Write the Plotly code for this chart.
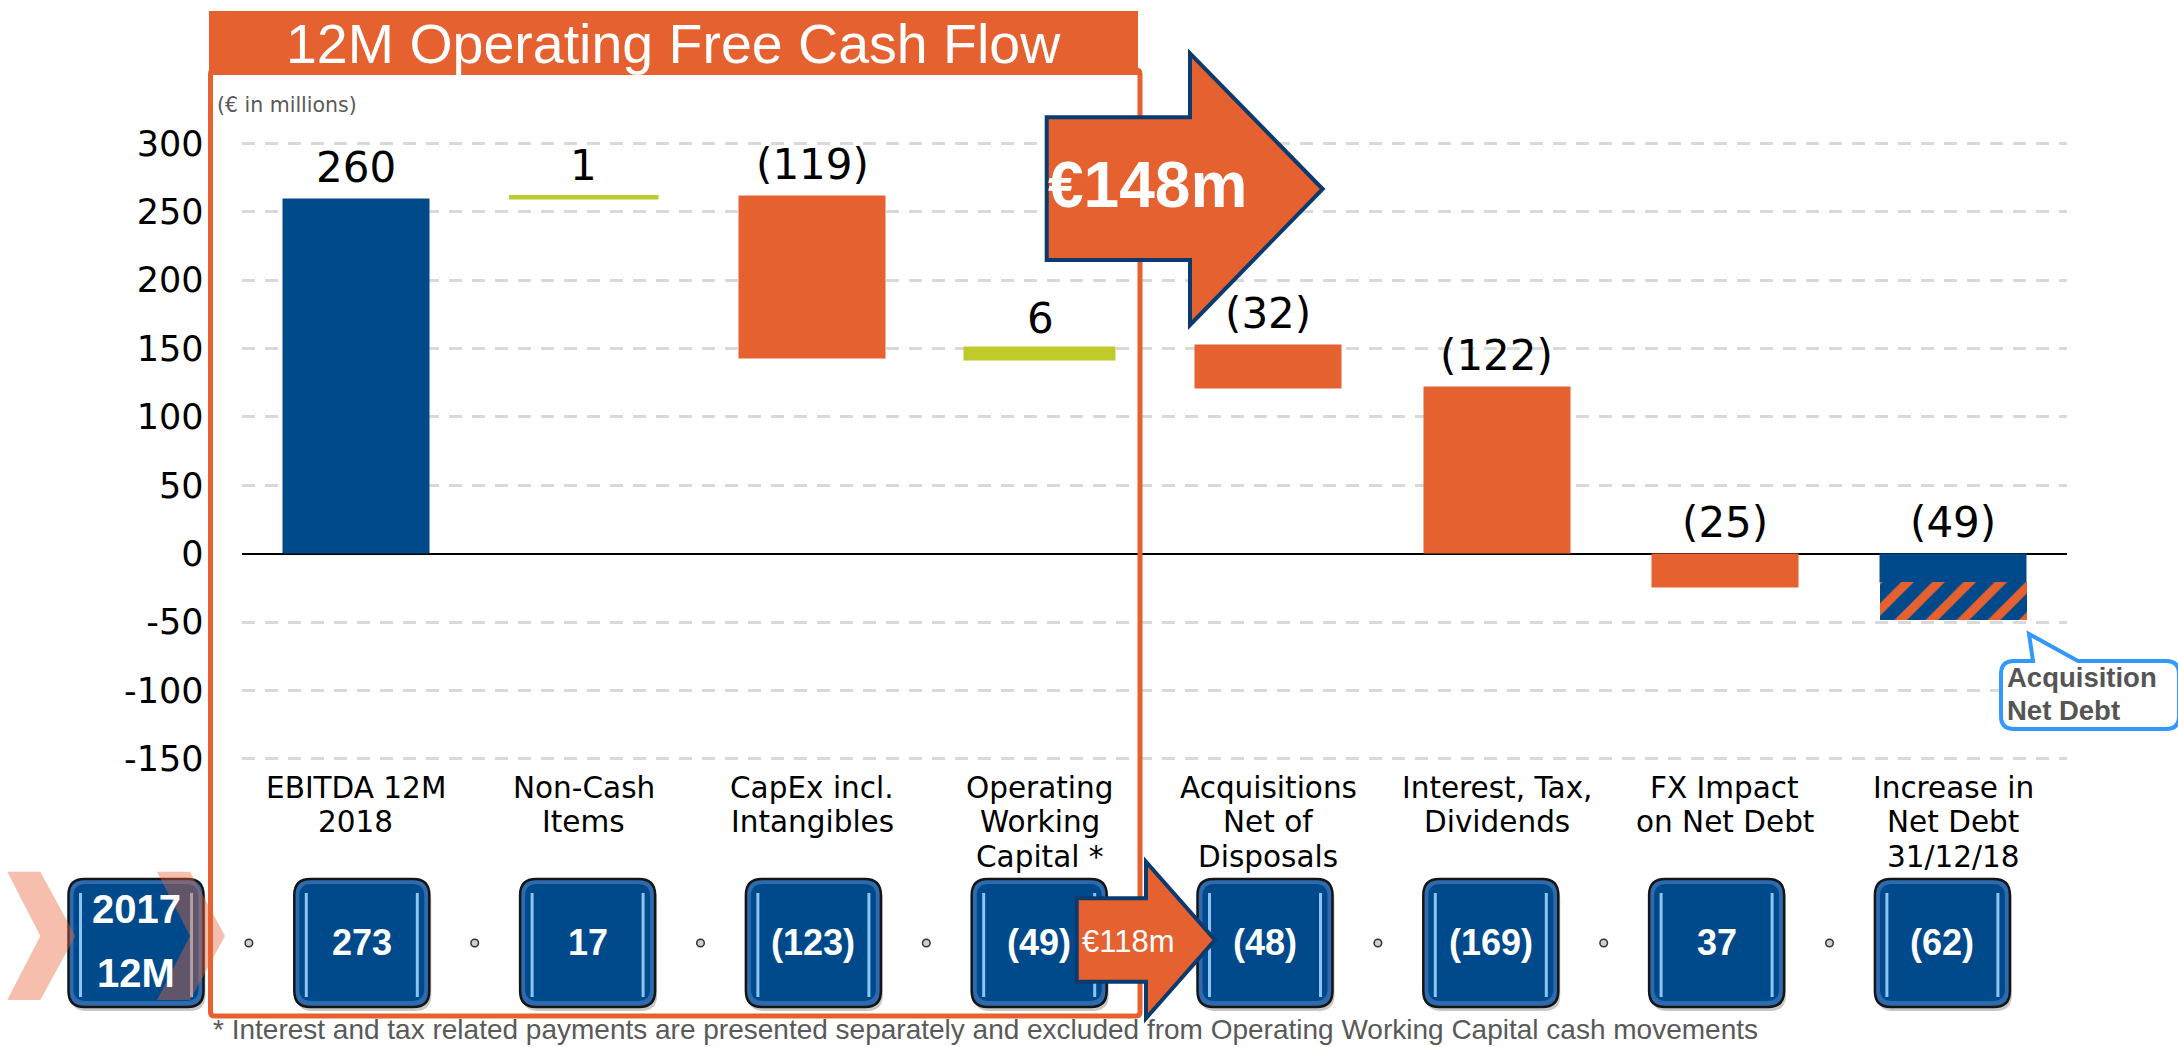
import plotly.graph_objects as go

W, H = 2178, 1047

# ---------------- data ----------------
categories = ["EBITDA 12M<br>2018", "Non-Cash<br>Items", "CapEx incl.<br>Intangibles",
              "Operating<br>Working<br>Capital *", "Acquisitions<br>Net of<br>Disposals",
              "Interest, Tax,<br>Dividends", "FX Impact<br>on Net Debt",
              "Increase in<br>Net Debt<br>31/12/18"]
value_labels = ["260", "1", "(119)", "6", "(32)", "(122)", "(25)", "(49)"]
bar_base = [0, 260, 262, 143, 153, 122, 0, 0]
bar_delta = [260, 1, -119, 6, -32, -122, -25, -21]
bar_kind = ["blue", "green", "orange", "green", "orange", "orange", "orange", "blue"]
hatch_base = [-21]
hatch_delta = [-28]
prior_year_title = ["2017", "12M"]
prior_year_values = ["273", "17", "(123)", "(49)", "(48)", "(169)", "37", "(62)"]
y_ticks = [-150, -100, -50, 0, 50, 100, 150, 200, 250, 300]
title_text = "12M Operating Free Cash Flow"
unit_text = "(€ in millions)"
fcf_2018 = "€148m"
fcf_2017 = "€118m"
callout_text = ["Acquisition", "Net Debt"]
footnote = ("* Interest and tax related payments are presented separately and excluded "
            "from Operating Working Capital cash movements")

# ---------------- style ----------------
BLUE = "#004A8C"
ORANGE = "#E5612F"
GREEN = "#BFCA2B"
NAVY = "#0B3A6E"
COLORS = {"blue": BLUE, "orange": ORANGE, "green": GREEN}
CHART_FONT = "DejaVu Sans"
SLIDE_FONT = "Liberation Sans"

# plot area in pixels
PL, PR, PT, PB = 241.5, 2067.1, 132.4, 769.8
YR = [-158, 308]
XR = [-0.5, len(categories) - 0.5]


def px(x):
    return x / W


def py(y):
    return 1 - y / H


def path(cmds):
    out = []
    for c in cmds:
        if isinstance(c, str):
            out.append(c)
        else:
            out.append(f"{px(c[0]):.6f},{py(c[1]):.6f}")
    return " ".join(out)


def poly(points):
    cmds = ["M", points[0]]
    for p in points[1:]:
        cmds += ["L", p]
    cmds.append("Z")
    return path(cmds)


def rrect(x0, y0, x1, y1, r):
    return path(["M", (x0 + r, y0), "L", (x1 - r, y0), "Q", (x1, y0), (x1, y0 + r),
                 "L", (x1, y1 - r), "Q", (x1, y1), (x1 - r, y1),
                 "L", (x0 + r, y1), "Q", (x0, y1), (x0, y1 - r),
                 "L", (x0, y0 + r), "Q", (x0, y0), (x0 + r, y0), "Z"])


def note(x, y, text, family, size, color, xanchor="center", yanchor="middle"):
    return dict(x=px(x), y=py(y), xref="paper", yref="paper", text=text, showarrow=False,
                xanchor=xanchor, yanchor=yanchor,
                font=dict(family=family, size=size, color=color))


n = len(categories)
xs = list(range(n))

fig = go.Figure()
fig.add_trace(go.Bar(
    x=xs, y=bar_delta, base=bar_base, width=0.645,
    marker=dict(color=[COLORS[k] for k in bar_kind],
                line=dict(color=[COLORS[k] for k in bar_kind],
                          width=[0, 2.5, 0, 5, 0, 0, 0, 0])),
    hoverinfo="skip", showlegend=False,
))
fig.add_trace(go.Bar(
    x=[n - 1], y=hatch_delta, base=hatch_base, width=0.645,
    marker=dict(color=BLUE, line=dict(width=0),
                pattern=dict(shape="/", fgcolor=ORANGE, bgcolor=BLUE,
                             size=22, solidity=0.4, fillmode="replace")),
    hoverinfo="skip", showlegend=False,
))

shapes = []
annotations = []

# value labels above bars
for i, lab in enumerate(value_labels):
    top = max(bar_base[i], bar_base[i] + bar_delta[i])
    annotations.append(dict(x=i, y=top, xref="x", yref="y", text=lab, showarrow=False,
                            xanchor="center", yanchor="middle", yshift=31,
                            font=dict(family=CHART_FONT, size=42, color="black")))

# category labels (one annotation per line)
for i, cat in enumerate(categories):
    for k, line in enumerate(cat.split("<br>")):
        annotations.append(dict(x=i, y=py(787.5 + 34.7 * k), xref="x", yref="paper",
                                text=line, showarrow=False, xanchor="center", yanchor="middle",
                                font=dict(family=CHART_FONT, size=29.5, color="black")))

# unit text
annotations.append(note(215, 105, unit_text, CHART_FONT, 20.5, "#595959", xanchor="left"))

# orange frame and title box
shapes.append(dict(type="path", path=rrect(210.5, 70, 1140, 1016, 4), xref="paper", yref="paper",
                   line=dict(color=ORANGE, width=5), fillcolor="rgba(0,0,0,0)", layer="above"))
shapes.append(dict(type="rect", x0=px(209), x1=px(1138), y0=py(11), y1=py(75),
                   xref="paper", yref="paper", fillcolor=ORANGE, line=dict(width=0), layer="above"))
annotations.append(note(673.5, 44, title_text, SLIDE_FONT, 55.5, "white"))

# bottom boxes
box_centers = [136 + 225.8 * k for k in range(n + 1)]
BY0, BY1 = 879, 1007
for cx in box_centers:
    x0, x1 = cx - 67.5, cx + 67.5
    shapes.append(dict(type="path", path=rrect(x0 + 2, BY0 + 4, x1 + 2, BY1 + 4, 16),
                       xref="paper", yref="paper", fillcolor="rgba(0,0,0,0.22)",
                       line=dict(width=0), layer="above"))
    shapes.append(dict(type="path", path=rrect(x0, BY0, x1, BY1, 16), xref="paper", yref="paper",
                       fillcolor="#2E6BAE", line=dict(color="#151515", width=2.5), layer="above"))
    shapes.append(dict(type="path", path=rrect(x0 + 5, BY0 + 5, x1 - 5, BY1 - 6, 12),
                       xref="paper", yref="paper", fillcolor=BLUE, line=dict(width=0), layer="above"))
    for lx in (x0 + 12, x1 - 12):
        shapes.append(dict(type="line", x0=px(lx), x1=px(lx), y0=py(BY0 + 14), y1=py(BY1 - 10),
                           xref="paper", yref="paper", line=dict(color="#8CC4F2", width=3),
                           layer="above"))

# dots between boxes (except where the small arrow is)
for k in range(n):
    if k == 4:
        continue
    mx = (box_centers[k] + box_centers[k + 1]) / 2
    shapes.append(dict(type="circle", x0=px(mx - 3.8), x1=px(mx + 3.8), y0=py(943 - 3.8),
                       y1=py(943 + 3.8), xref="paper", yref="paper", fillcolor="#CFCFCF",
                       line=dict(color="#333333", width=1.5), layer="above"))

# chevrons
for cx0 in (7.3, 157):
    pts = [(cx0, 871.7), (cx0 + 33, 871.7), (cx0 + 68, 936), (cx0 + 33, 1000),
           (cx0, 1000), (cx0 + 33, 936)]
    shapes.append(dict(type="path", path=poly(pts), xref="paper", yref="paper",
                       fillcolor="rgba(232,100,60,0.42)", line=dict(width=0), layer="above"))

# box texts
annotations.append(note(box_centers[0], 909, f"<b>{prior_year_title[0]}</b>", SLIDE_FONT, 40, "white"))
annotations.append(note(box_centers[0], 973, f"<b>{prior_year_title[1]}</b>", SLIDE_FONT, 40, "white"))
for k, v in enumerate(prior_year_values):
    annotations.append(note(box_centers[k + 1], 942, f"<b>{v}</b>", SLIDE_FONT, 36, "white"))

# small arrow (2017)
small_arrow = [(1076.7, 898.3), (1146, 898.3), (1146, 861.7), (1215, 940),
               (1146, 1018.3), (1146, 981.7), (1076.7, 981.7)]
shapes.append(dict(type="path", path=poly(small_arrow), xref="paper", yref="paper",
                   fillcolor=ORANGE, line=dict(color=NAVY, width=4), layer="above"))
annotations.append(note(1128, 941, fcf_2017, SLIDE_FONT, 31, "white"))

# big arrow (2018)
big_arrow = [(1046.7, 117.3), (1190, 117.3), (1190, 53.3), (1322.7, 189),
             (1190, 325), (1190, 260), (1046.7, 260)]
shapes.append(dict(type="path", path=poly(big_arrow), xref="paper", yref="paper",
                   fillcolor=ORANGE, line=dict(color=NAVY, width=4), layer="above"))
annotations.append(note(1147, 185, f"<b>{fcf_2018}</b>", SLIDE_FONT, 64, "white"))

# callout
cl = path(["M", (2014, 661), "L", (2033, 661), "L", (2029, 634), "L", (2078, 661),
           "L", (2166, 661), "Q", (2179, 661), (2179, 674), "L", (2179, 716),
           "Q", (2179, 729), (2166, 729), "L", (2014, 729), "Q", (2001, 729), (2001, 716),
           "L", (2001, 674), "Q", (2001, 661), (2014, 661), "Z"])
shapes.append(dict(type="path", path=cl, xref="paper", yref="paper", fillcolor="white",
                   line=dict(color="#3399FF", width=4), layer="above"))
for k, t in enumerate(callout_text):
    annotations.append(note(2005, 677 + 33.5 * k, f"<b>{t}</b>", SLIDE_FONT, 27.5, "#555555",
                            xanchor="left"))

# footnote
annotations.append(note(211, 1029, footnote, SLIDE_FONT, 28, "#595959", xanchor="left"))

fig.update_layout(
    template="none",
    width=W, height=H,
    margin=dict(l=0, r=0, t=0, b=0, pad=0),
    paper_bgcolor="white", plot_bgcolor="white",
    barmode="overlay", bargap=0,
    showlegend=False,
    xaxis=dict(domain=[px(PL), px(PR)], range=XR, showticklabels=False, showgrid=False,
               zeroline=False, showline=False, ticks="", automargin=False, fixedrange=True),
    yaxis=dict(domain=[py(PB), py(PT)], range=YR, tickvals=y_ticks,
               ticktext=[str(v) for v in y_ticks], ticks="", showline=False,
               ticklabelstandoff=37,
               tickfont=dict(family=CHART_FONT, size=35, color="black"),
               showgrid=True, gridcolor="#D9D9D9", gridwidth=3, griddash="13px,10px",
               zeroline=True, zerolinecolor="black", zerolinewidth=2,
               automargin=False, fixedrange=True),
    shapes=shapes,
    annotations=annotations,
)

fig.write_html("out.html", config={"displayModeBar": False},
               post_script="document.body.style.margin='0';document.body.style.overflow='hidden';")
